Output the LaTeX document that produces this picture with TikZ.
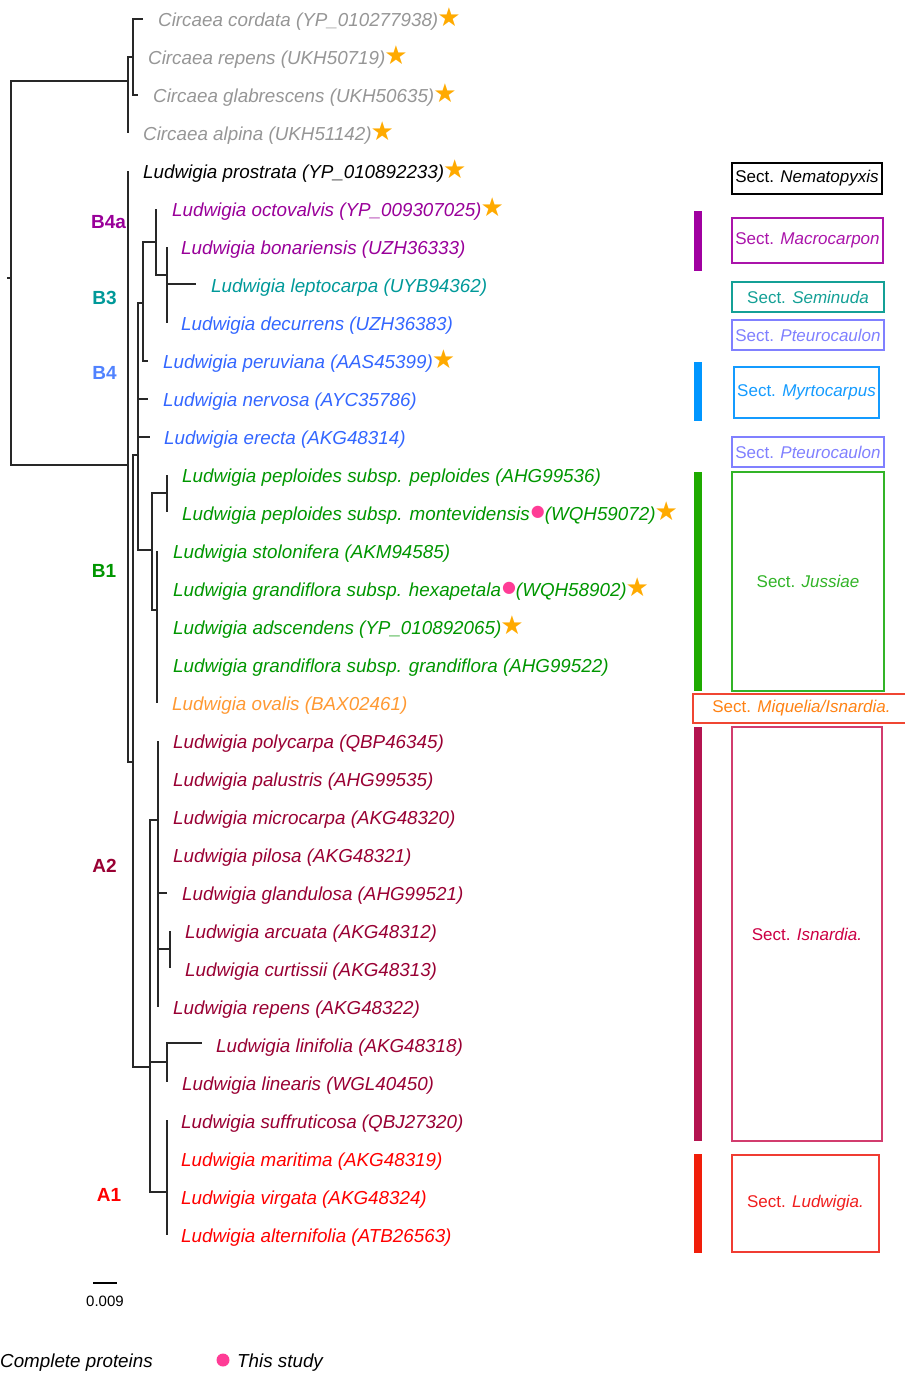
\documentclass[tikz,border=0pt]{standalone}
\usepackage{fontspec}
\setmainfont{Liberation Sans}
\newfontfamily\symf{DejaVu Sans}
\definecolor{treec}{RGB}{40,40,40}
\definecolor{grayc}{RGB}{150,150,150}
\definecolor{purc}{RGB}{153,0,153}
\definecolor{tealc}{RGB}{0,153,153}
\definecolor{bluec}{RGB}{51,102,255}
\definecolor{lbluec}{RGB}{80,130,255}
\definecolor{greenc}{RGB}{0,150,0}
\definecolor{orangec}{RGB}{255,153,51}
\definecolor{crimc}{RGB}{153,0,51}
\definecolor{redc}{RGB}{255,0,0}
\definecolor{starc}{RGB}{255,170,0}
\definecolor{dotc}{RGB}{255,60,150}
\definecolor{macroc}{RGB}{170,20,170}
\definecolor{semic}{RGB}{20,160,150}
\definecolor{pteuc}{RGB}{128,128,255}
\definecolor{myrtc}{RGB}{20,155,255}
\definecolor{jussc}{RGB}{50,180,40}
\definecolor{miqbc}{RGB}{240,70,50}
\definecolor{miqtc}{RGB}{255,130,20}
\definecolor{isnbc}{RGB}{210,60,110}
\definecolor{isntc}{RGB}{204,0,68}
\definecolor{ludbc}{RGB}{240,60,50}
\definecolor{ludtc}{RGB}{240,30,30}
\definecolor{barpur}{RGB}{160,0,160}
\definecolor{barblue}{RGB}{0,150,255}
\definecolor{bargreen}{RGB}{30,170,0}
\definecolor{barcrim}{RGB}{180,20,80}
\definecolor{barred}{RGB}{240,30,10}
\newcommand\str{\kern-1pt\textcolor{starc}{\symf\upshape\fontsize{26}{26}\selectfont\raisebox{-0.5pt}{★}}}
\newcommand\pdot{\kern1pt\textcolor{dotc}{\symf\upshape\fontsize{16}{16}\selectfont\raisebox{4pt}{●}}}
\tikzset{
  tree/.style={draw=treec, line width=1.2pt},
  lab/.style={anchor=base west, inner sep=0pt, font=\fontsize{18.8}{22}\selectfont\itshape},
  clade/.style={inner sep=0pt, font=\fontsize{19}{22}\selectfont\bfseries},
  sectbox/.style={draw, line width=1.3pt, inner sep=0pt, font=\fontsize{17}{20}\selectfont, align=center},
}
\begin{document}
\begin{tikzpicture}[x=1pt,y=-1pt]
\useasboundingbox (0,0) rectangle (905,1374);
% tree coordinates
\coordinate (R) at (11,273);
\coordinate (rt) at (7,278);
\coordinate (rt2) at (11,278);
\coordinate (C1) at (128,81);
\coordinate (C2) at (133,57);
\coordinate (t1) at (143,19);
\coordinate (t2) at (133,57);
\coordinate (t3) at (138,95);
\coordinate (t4) at (128,133);
\coordinate (L0) at (128,465);
\coordinate (t5) at (128,171);
\coordinate (N1) at (133,762);
\coordinate (B) at (138,455);
\coordinate (P) at (143,303);
\coordinate (Q) at (156,242);
\coordinate (t6) at (156,209);
\coordinate (Rn) at (167,275);
\coordinate (t7) at (167,247);
\coordinate (t8) at (196,284);
\coordinate (t9) at (167,323);
\coordinate (t10) at (148,361);
\coordinate (t11) at (148,399);
\coordinate (t12) at (150,437);
\coordinate (B1) at (152,550);
\coordinate (S) at (167,493);
\coordinate (t13) at (167,475);
\coordinate (t14) at (167,512);
\coordinate (T) at (157,610);
\coordinate (t15) at (157,551);
\coordinate (t16) at (157,589);
\coordinate (t17) at (157,627);
\coordinate (t18) at (157,665);
\coordinate (t19) at (157,703);
\coordinate (A) at (150,1067);
\coordinate (A2) at (158,820);
\coordinate (t20) at (158,741);
\coordinate (t21) at (158,779);
\coordinate (t22) at (158,817);
\coordinate (t23) at (158,855);
\coordinate (t24) at (167,893);
\coordinate (AC) at (170,949);
\coordinate (t25) at (170,931);
\coordinate (t26) at (170,968);
\coordinate (t27) at (158,1007);
\coordinate (LL) at (167,1062);
\coordinate (t28) at (202,1043);
\coordinate (t29) at (167,1082);
\coordinate (A1) at (167,1192);
\coordinate (t30) at (167,1120);
\coordinate (t31) at (167,1159);
\coordinate (t32) at (167,1197);
\coordinate (t33) at (167,1235);
\draw[tree] (rt) -- (rt2);
\foreach \p/\c in {R/C1,R/L0,C1/C2,C1/t4,C2/t1,C2/t2,C2/t3,L0/t5,L0/N1,N1/B,N1/A,
  B/P,B/t11,B/t12,B/B1,P/Q,P/t10,Q/t6,Q/Rn,Rn/t7,Rn/t8,Rn/t9,
  B1/S,B1/T,S/t13,S/t14,T/t15,T/t16,T/t17,T/t18,T/t19,
  A/A2,A/LL,A/A1,A2/t20,A2/t21,A2/t22,A2/t23,A2/t24,A2/AC,A2/t27,AC/t25,AC/t26,
  LL/t28,LL/t29,A1/t30,A1/t31,A1/t32,A1/t33}
  \draw[tree] (\p) |- (\c);
% leaf labels
\node[lab,text=grayc] (l1) at (158,26) {Circaea cordata (YP\_010277938)\str};
\node[lab,text=grayc] (l2) at (148,64) {Circaea repens (UKH50719)\str};
\node[lab,text=grayc] (l3) at (153,102) {Circaea glabrescens (UKH50635)\str};
\node[lab,text=grayc] (l4) at (143,140) {Circaea alpina (UKH51142)\str};
\node[lab,text=black] (l5) at (143,178) {Ludwigia prostrata (YP\_010892233)\str};
\node[lab,text=purc] (l6) at (172,216) {Ludwigia octovalvis (YP\_009307025)\str};
\node[lab,text=purc] (l7) at (181,254) {Ludwigia bonariensis (UZH36333)};
\node[lab,text=tealc] (l8) at (211,292) {Ludwigia leptocarpa (UYB94362)};
\node[lab,text=bluec] (l9) at (181,330) {Ludwigia decurrens (UZH36383)};
\node[lab,text=bluec] (l10) at (163,368) {Ludwigia peruviana (AAS45399)\str};
\node[lab,text=bluec] (l11) at (163,406) {Ludwigia nervosa (AYC35786)};
\node[lab,text=bluec] (l12) at (164,444) {Ludwigia erecta (AKG48314)};
\node[lab,text=greenc] (l13) at (182,482) {Ludwigia peploides subsp. peploides (AHG99536)};
\node[lab,text=greenc] (l14) at (182,520) {Ludwigia peploides subsp. montevidensis\pdot(WQH59072)\str};
\node[lab,text=greenc] (l15) at (173,558) {Ludwigia stolonifera (AKM94585)};
\node[lab,text=greenc] (l16) at (173,596) {Ludwigia grandiflora subsp. hexapetala\pdot(WQH58902)\str};
\node[lab,text=greenc] (l17) at (173,634) {Ludwigia adscendens (YP\_010892065)\str};
\node[lab,text=greenc] (l18) at (173,672) {Ludwigia grandiflora subsp. grandiflora (AHG99522)};
\node[lab,text=orangec] (l19) at (172,710) {Ludwigia ovalis (BAX02461)};
\node[lab,text=crimc] (l20) at (173,748) {Ludwigia polycarpa (QBP46345)};
\node[lab,text=crimc] (l21) at (173,786) {Ludwigia palustris (AHG99535)};
\node[lab,text=crimc] (l22) at (173,824) {Ludwigia microcarpa (AKG48320)};
\node[lab,text=crimc] (l23) at (173,862) {Ludwigia pilosa (AKG48321)};
\node[lab,text=crimc] (l24) at (182,900) {Ludwigia glandulosa (AHG99521)};
\node[lab,text=crimc] (l25) at (185,938) {Ludwigia arcuata (AKG48312)};
\node[lab,text=crimc] (l26) at (185,976) {Ludwigia curtissii (AKG48313)};
\node[lab,text=crimc] (l27) at (173,1014) {Ludwigia repens (AKG48322)};
\node[lab,text=crimc] (l28) at (216,1052) {Ludwigia linifolia (AKG48318)};
\node[lab,text=crimc] (l29) at (182,1090) {Ludwigia linearis (WGL40450)};
\node[lab,text=crimc] (l30) at (181,1128) {Ludwigia suffruticosa (QBJ27320)};
\node[lab,text=redc] (l31) at (181,1166) {Ludwigia maritima (AKG48319)};
\node[lab,text=redc] (l32) at (181,1204) {Ludwigia virgata (AKG48324)};
\node[lab,text=redc] (l33) at (181,1242) {Ludwigia alternifolia (ATB26563)};
% clade labels
\node[clade,text=purc] (cB4a) at (108.5,222) {B4a};
\node[clade,text=tealc] (cB3) at (104.5,298) {B3};
\node[clade,text=lbluec] (cB4) at (104.5,373) {B4};
\node[clade,text=greenc] (cB1) at (104,571) {B1};
\node[clade,text=crimc] (cA2) at (104.5,866) {A2};
\node[clade,text=redc] (cA1) at (109,1195) {A1};
% bars
\fill[barpur] (694,211) rectangle (702,271);
\fill[barblue] (694,362) rectangle (702,421);
\fill[bargreen] (694,472) rectangle (702,691);
\fill[barcrim] (694,727) rectangle (702,1141);
\fill[barred] (694,1154) rectangle (702,1253);
% section boxes
\node[sectbox,draw=black,text=black,minimum width=150pt,minimum height=31pt] (s1) at (807,178.5) {Sect. \textit{Nematopyxis}};
\node[sectbox,draw=macroc,text=macroc,minimum width=151pt,minimum height=45pt] (s2) at (807.5,240.5) {Sect. \textit{Macrocarpon}};
\node[sectbox,draw=semic,text=semic,minimum width=152pt,minimum height=30pt] (s3) at (808,297) {Sect. \textit{Seminuda}};
\node[sectbox,draw=pteuc,text=pteuc,minimum width=152pt,minimum height=30pt] (s4) at (808,335) {Sect. \textit{Pteurocaulon}};
\node[sectbox,draw=myrtc,text=myrtc,minimum width=145pt,minimum height=51pt] (s5) at (806.5,392.5) {Sect. \textit{Myrtocarpus}};
\node[sectbox,draw=pteuc,text=pteuc,minimum width=152pt,minimum height=30pt] (s6) at (808,452) {Sect. \textit{Pteurocaulon}};
\node[sectbox,draw=jussc,text=jussc,minimum width=152pt,minimum height=219pt] (s7) at (808,581.5) {Sect. \textit{Jussiae}};
\node[sectbox,draw=miqbc,text=miqtc,minimum width=217pt,minimum height=29pt] (s8) at (801.5,708.5) {Sect. \textit{Miquelia/Isnardia.}};
\node[sectbox,draw=isnbc,text=isntc,minimum width=150pt,minimum height=414pt] (s9) at (807,934) {Sect. \textit{Isnardia.}};
\node[sectbox,draw=ludbc,text=ludtc,minimum width=147pt,minimum height=97pt] (s10) at (805.5,1203.5) {Sect. \textit{Ludwigia.}};
% scale bar
\coordinate (sb1) at (93,1283);
\coordinate (sb2) at (117,1283);
\draw[line width=1.2pt,black] (sb1) -- (sb2);
\node[inner sep=0pt,font=\fontsize{15}{17}\selectfont] (sbl) at (105,1301) {0.009};
% legend
\node[anchor=base west,inner sep=0pt,font=\fontsize{18.8}{22}\selectfont\itshape] (lg1) at (0,1367) {Complete proteins};
\fill[dotc] (223,1360) circle (6.5pt);
\node[anchor=base west,inner sep=0pt,font=\fontsize{18.8}{22}\selectfont\itshape] (lg2) at (237,1367) {This study};
\end{tikzpicture}
\end{document}
